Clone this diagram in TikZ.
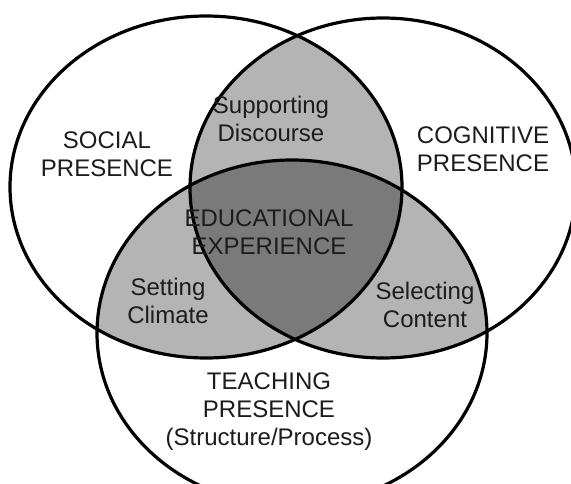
\documentclass[tikz,border=0pt]{standalone}
\usepackage{fontspec}
\setmainfont{Liberation Sans}
\usetikzlibrary{positioning}
\definecolor{ink}{HTML}{1c1c1c}
\definecolor{pairfill}{HTML}{b4b4b4}
\definecolor{corefill}{HTML}{7a7a7a}

% the three presences
\newcommand{\socialset}{(206,187) ellipse [x radius=196pt, y radius=171pt]}
\newcommand{\cognitiveset}{(383,188) ellipse [x radius=193pt, y radius=170pt]}
\newcommand{\teachingset}{(292,333) ellipse [x radius=195pt, y radius=173pt]}

\begin{document}
\begin{tikzpicture}[
  x=1pt, y=-1pt,
  font=\fontsize{24}{28}\selectfont,
  label/.style={align=center, text=ink, inner sep=0pt},
  rim/.style={draw=black, line width=3.2pt}
]
  \useasboundingbox[fill=white] (0,0) rectangle (571,484);

  % pairwise overlaps
  \begin{scope}
    \clip \socialset;
    \fill[pairfill] \cognitiveset;
    \fill[pairfill] \teachingset;
  \end{scope}
  \begin{scope}
    \clip \cognitiveset;
    \fill[pairfill] \teachingset;
  \end{scope}

  % centre overlap
  \begin{scope}
    \clip \socialset;
    \clip \cognitiveset;
    \fill[corefill] \teachingset;
  \end{scope}

  % outlines
  \draw[rim] \socialset;
  \draw[rim] \cognitiveset;
  \draw[rim] \teachingset;

  % texts
  \node[label] (social) at (107,154) {SOCIAL\\PRESENCE};
  \node[label] (cognitive) at (483,149) {COGNITIVE\\PRESENCE};
  \node[label] (teaching) at (269,412) {TEACHING\\PRESENCE\\(Structure/Process)};
  \node[label] (discourse) at (271,119) {Supporting\\Discourse};
  \node[label] (climate) at (168,301) {Setting\\Climate};
  \node[label] (content) at (425,305) {Selecting\\Content};
  \node[label] (experience) at (269,232) {EDUCATIONAL\\EXPERIENCE};
\end{tikzpicture}
\end{document}
